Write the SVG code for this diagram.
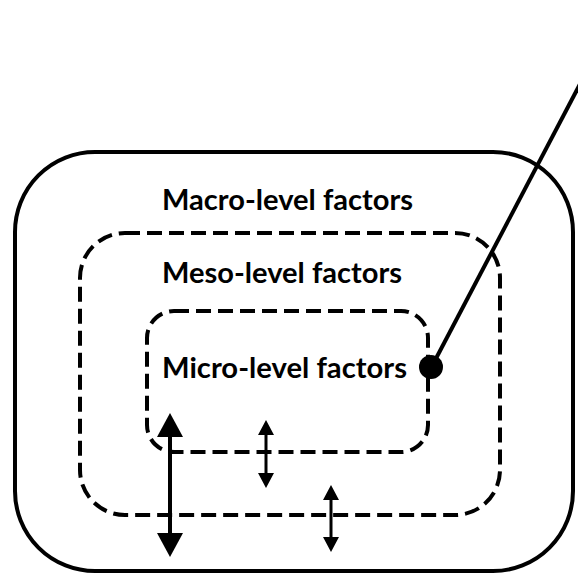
<svg xmlns="http://www.w3.org/2000/svg" width="578" height="575" viewBox="0 0 578 575">
<style>
.frame{fill:none;stroke:#000;stroke-width:4}
.dash{fill:none;stroke:#000;stroke-width:4;stroke-dasharray:15 7}
.lbl{font-family:Lato,"Open Sans","Liberation Sans",sans-serif;font-weight:bold;font-size:28px;fill:#000}
.conn{stroke:#000;fill:none}
</style>
<defs>
<marker id="bigHead" markerUnits="userSpaceOnUse" viewBox="0 0 24 26" markerWidth="24" markerHeight="26" refX="0" refY="13" orient="auto-start-reverse">
<path d="M0,0 L24,13 L0,26 z" fill="#000"/>
</marker>
<marker id="smallHead" markerUnits="userSpaceOnUse" viewBox="0 0 15 16" markerWidth="15" markerHeight="16" refX="0" refY="8" orient="auto-start-reverse">
<path d="M0,0 L15,8 L0,16 z" fill="#000"/>
</marker>
</defs>
<rect width="578" height="575" fill="#fff"/>
<g id="macro">
<rect class="frame" x="15" y="152" width="558" height="419" rx="80" ry="80"/>
<text class="lbl" x="162" y="210" textLength="251" lengthAdjust="spacingAndGlyphs">Macro-level factors</text>
</g>
<g id="meso">
<rect class="dash" x="80" y="233" width="420" height="282" rx="45" ry="45"/>
<text class="lbl" x="162" y="283" textLength="240" lengthAdjust="spacingAndGlyphs">Meso-level factors</text>
</g>
<g id="micro">
<rect class="dash" x="147" y="311" width="281" height="141" rx="27" ry="27"/>
<text class="lbl" x="162" y="378" textLength="245" lengthAdjust="spacingAndGlyphs">Micro-level factors</text>
</g>
<g id="connectors">
<line class="conn" x1="431" y1="368" x2="590" y2="65" stroke-width="4"/>
<circle cx="431" cy="367" r="12" fill="#000"/>
<line class="conn" x1="170" y1="437" x2="170" y2="533" stroke-width="4" marker-start="url(#bigHead)" marker-end="url(#bigHead)"/>
<line class="conn" x1="266" y1="435" x2="266" y2="473" stroke-width="3" marker-start="url(#smallHead)" marker-end="url(#smallHead)"/>
<line class="conn" x1="331" y1="500" x2="331" y2="537" stroke-width="3" marker-start="url(#smallHead)" marker-end="url(#smallHead)"/>
</g>
</svg>
